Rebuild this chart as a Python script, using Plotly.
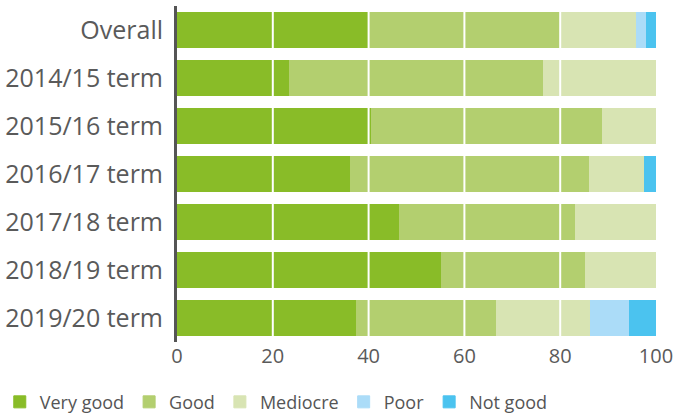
import plotly.graph_objects as go

categories = ["Overall", "2014/15 term", "2015/16 term", "2016/17 term",
              "2017/18 term", "2018/19 term", "2019/20 term"]
very_good = [40.0, 23.5, 40.7, 36.2, 46.4, 55.2, 37.4]
good      = [40.0, 53.1, 48.2, 50.0, 36.7, 30.0, 29.4]
mediocre  = [16.0, 23.4, 11.1, 11.3, 16.9, 14.8, 19.6]
poor      = [2.0, None, None, None, None, None, 8.0]
not_good  = [2.0, None, None, 2.5, None, None, 5.6]

series = [
    ("Very good", very_good, "#89bc28"),
    ("Good", good, "#b3cf6f"),
    ("Mediocre", mediocre, "#d8e4b3"),
    ("Poor", poor, "#abdcf8"),
    ("Not good", not_good, "#4bc3ef"),
]
x_ticks = [0, 20, 40, 60, 80, 100]

fig = go.Figure()
for name, vals, col in series:
    fig.add_trace(go.Bar(y=categories, x=vals, name=name, orientation="h",
                         marker=dict(color=col, line=dict(width=1, color=col))))

for t in x_ticks[1:-1]:
    fig.add_shape(type="line", xref="x", yref="paper", x0=t, x1=t, y0=0, y1=1,
                  line=dict(color="white", width=2), layer="above")

fig.update_layout(
    width=673, height=418,
    barmode="stack", bargap=0.27,
    plot_bgcolor="white", paper_bgcolor="white",
    margin=dict(l=177, r=17, t=6, b=76, autoexpand=False),
    font=dict(family="Open Sans", color="#5a5a5a"),
    showlegend=True,
    legend=dict(orientation="h", x=-0.37, y=-0.179,
                xanchor="left", yanchor="middle",
                font=dict(size=18, color="#555"), traceorder="normal",
                itemwidth=30, tracegroupgap=0),
    xaxis=dict(range=[0, 100], tickvals=x_ticks, showgrid=False, zeroline=False,
               tickfont=dict(size=20, color="#5a5a5a"), showline=False, ticks="",
               ticklabeloverflow="allow", automargin=False),
    yaxis=dict(autorange="reversed", showline=True, linecolor="#555", linewidth=3,
               tickfont=dict(size=25, color="#5a5a5a"), ticks="", ticklabelstandoff=6,
               automargin=False),
)
fig.write_html("out.html")
